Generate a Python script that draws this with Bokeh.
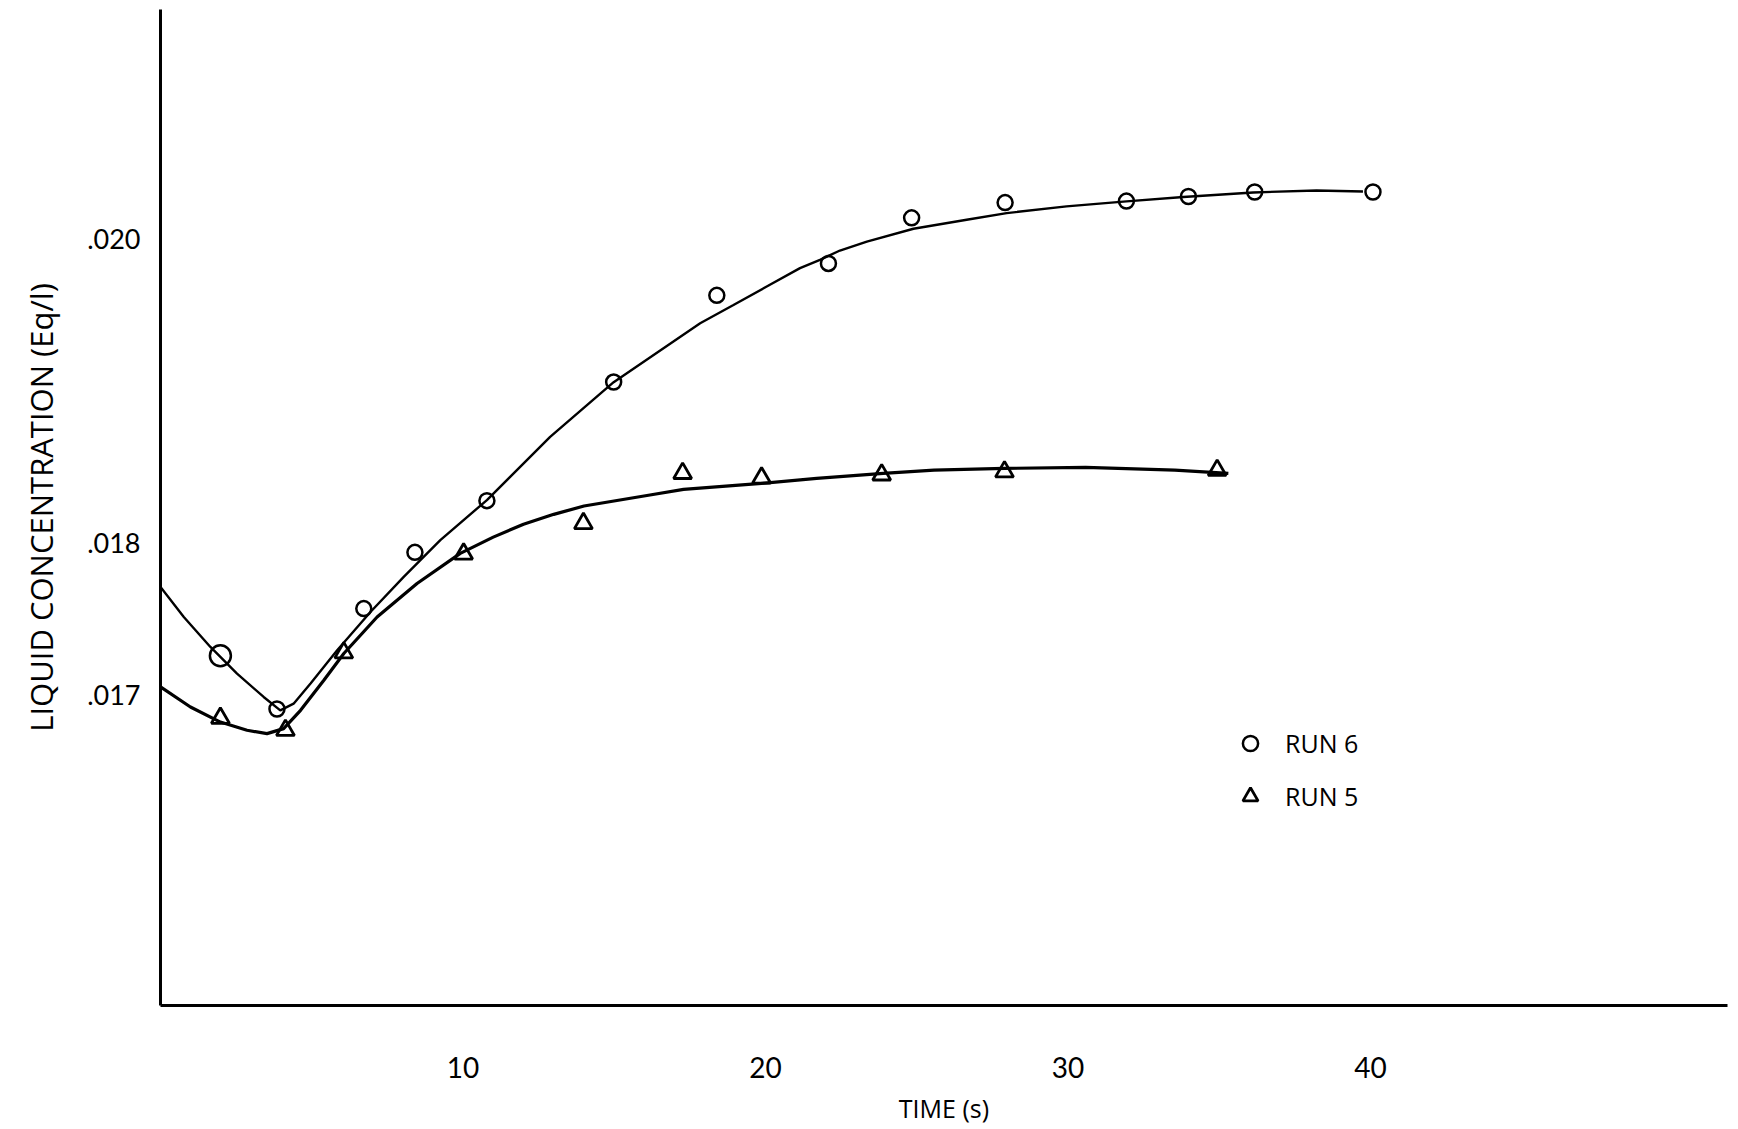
from bokeh.plotting import figure
from bokeh.models import (FixedTicker, CustomJSTickFormatter, Legend, LegendItem,
                          Range1d)
from bokeh.embed import file_html
from bokeh.resources import INLINE

# ---- data ----
x_ticks = [10, 20, 30, 40]
y_ticks = [0.017, 0.018, 0.020]

# RUN 6 measured points (circles)
run6_t = [1.98, 3.85, 6.72, 8.41, 10.79, 14.98, 18.39, 22.08, 24.83, 27.92, 31.93, 33.98, 36.17, 40.08]
run6_c = [0.01726, 0.01691, 0.01757, 0.01794, 0.01828, 0.01906, 0.01963, 0.01984,
          0.02014, 0.02024, 0.02025, 0.02028, 0.02031, 0.02031]

# RUN 5 measured points (triangles)
run5_t = [1.98, 4.13, 6.06, 10.02, 13.98, 17.26, 19.87, 23.84, 27.90, 34.93]
run5_c = [0.01685, 0.01677, 0.01728, 0.01793, 0.01813, 0.01846, 0.01843, 0.01845, 0.01847, 0.01848]

# hand-drawn fitted curves
curve6_t = [0, 0.77, 1.65, 2.53, 3.41, 3.96, 4.40, 4.96, 5.84, 6.94, 8.04, 9.25, 10.79, 12.88,
            14.98, 17.84, 18.94, 20.04, 21.14, 21.80, 22.46, 23.35, 24.89, 26.65, 27.97,
            29.95, 31.93, 33.81, 36.12, 38.21, 39.75]
curve6_c = [0.017713, 0.017515, 0.017318, 0.017143, 0.016989, 0.016901, 0.016945, 0.017077,
            0.017296, 0.017548, 0.017779, 0.018020, 0.018284, 0.018700, 0.019059, 0.019447,
            0.019567, 0.019688, 0.019809, 0.019864, 0.019925, 0.019984, 0.020068, 0.020127,
            0.020171, 0.020215, 0.020248, 0.020277, 0.020307, 0.020320, 0.020313]

curve5_t = [0, 0.99, 1.98, 2.86, 3.52, 4.07, 4.63, 5.40, 6.06, 7.16, 8.48, 9.91, 11.0, 12.0,
            13.0, 14.0, 16.18, 17.29, 19.87, 21.69, 23.89, 25.57, 27.9, 30.58, 33.53, 35.30]
curve5_c = [0.017055, 0.016923, 0.016824, 0.016770, 0.016748, 0.016781, 0.016901, 0.017099,
            0.017275, 0.017515, 0.017735, 0.017933, 0.018040, 0.018125, 0.018190, 0.018245,
            0.018317, 0.018354, 0.018394, 0.018427, 0.018460, 0.018481, 0.018492, 0.018499,
            0.018481, 0.018460]

x_label = "TIME (s)"
y_label = "LIQUID CONCENTRATION (Eq/l)"
series_names = ["RUN 6", "RUN 5"]

TICK_FONT = "Lato"
LABEL_FONT = "Open Sans"

p = figure(width=1736, height=1128, output_backend="svg", toolbar_location=None,
           x_range=Range1d(0, 51.8), y_range=Range1d(0.01496, 0.02151),
           min_border_left=160, min_border_right=9, min_border_top=9, min_border_bottom=123)
p.outline_line_color = None
p.xgrid.visible = False
p.ygrid.visible = False
p.background_fill_color = "white"
p.border_fill_color = "white"

# curves
p.line(curve6_t, curve6_c, line_color="black", line_width=2.4)
p.line(curve5_t, curve5_c, line_color="black", line_width=3.2)

# points
r6 = p.scatter(run6_t[1:], run6_c[1:], marker="circle", size=15, fill_color="white",
               fill_alpha=0, line_color="black", line_width=2.5)
p.scatter(run6_t[:1], run6_c[:1], marker="circle", size=21, fill_color="white",
          fill_alpha=0, line_color="black", line_width=2.5)
r5 = p.scatter(run5_t, run5_c, marker="triangle", size=18, fill_color="white",
               fill_alpha=0, line_color="black", line_width=2.8)

# axes
for ax in (p.xaxis[0], p.yaxis[0]):
    ax.axis_line_color = "black"
    ax.axis_line_width = 3
    ax.major_tick_line_color = None
    ax.minor_tick_line_color = None
    ax.major_tick_out = 0
    ax.major_tick_in = 0
    ax.major_label_text_color = "black"
    ax.major_label_text_font = TICK_FONT
    ax.axis_label_text_color = "black"
    ax.axis_label_text_font = LABEL_FONT
    ax.axis_label_text_font_style = "normal"

p.xaxis[0].ticker = FixedTicker(ticks=x_ticks)
p.xaxis[0].major_label_text_font_size = "28px"
p.xaxis[0].major_label_standoff = 51
p.xaxis[0].axis_label = x_label
p.xaxis[0].axis_label_text_font_size = "25px"
p.xaxis[0].axis_label_standoff = 10

p.yaxis[0].ticker = FixedTicker(ticks=y_ticks)
p.yaxis[0].formatter = CustomJSTickFormatter(code="return tick.toFixed(3).replace(/^0/, '')")
p.yaxis[0].major_label_text_font_size = "27px"
p.yaxis[0].major_label_standoff = 20
p.yaxis[0].major_label_orientation = "horizontal"
p.yaxis[0].axis_label = y_label
p.yaxis[0].axis_label_text_font_size = "31px"
p.yaxis[0].axis_label_standoff = 22

legend = Legend(items=[LegendItem(label=series_names[0], renderers=[r6]),
                       LegendItem(label=series_names[1], renderers=[r5])],
                location=(1071, 190), orientation="vertical",
                padding=0, margin=0, spacing=15,
                glyph_width=38, glyph_height=38, label_height=38,
                label_standoff=16,
                label_text_font=LABEL_FONT, label_text_font_size="25px",
                label_text_color="black",
                background_fill_alpha=0, border_line_color=None)
p.add_layout(legend, "center")

open("out.html", "w").write(file_html(p, INLINE))
